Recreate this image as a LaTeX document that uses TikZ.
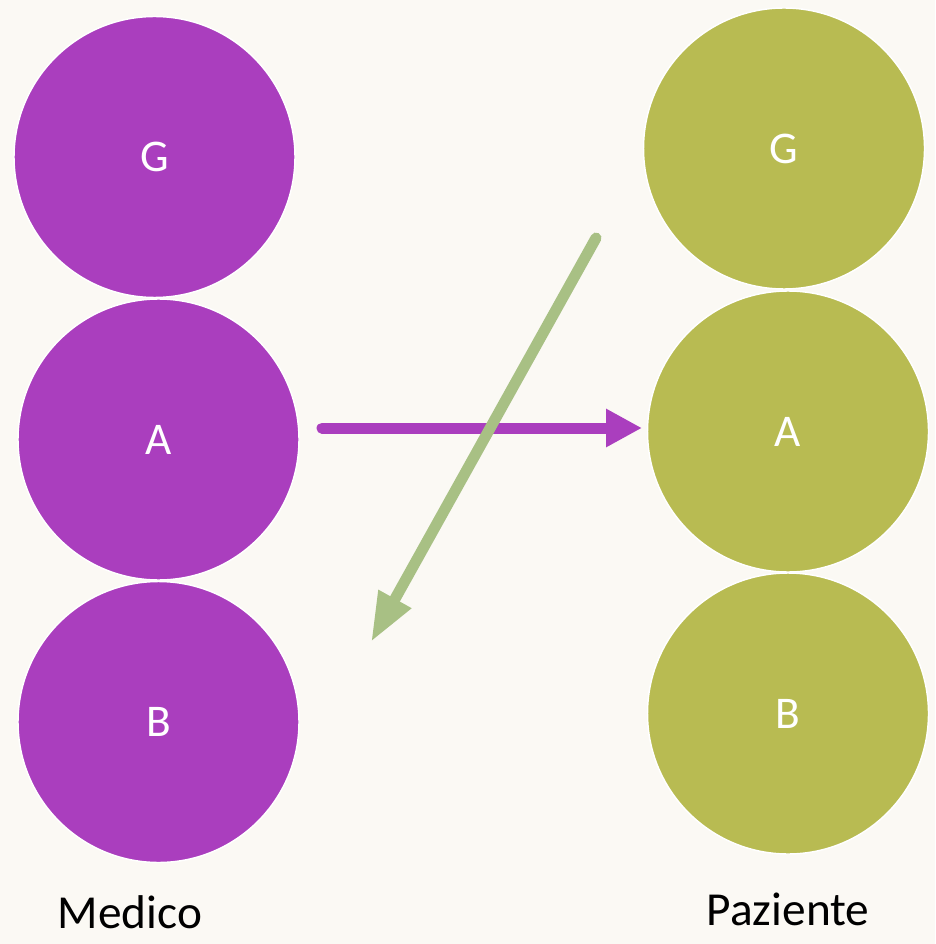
\documentclass[tikz,border=0pt]{standalone}
\usepackage{fontspec}
\setmainfont{Carlito}
\usetikzlibrary{arrows.meta}
\definecolor{bg}{RGB}{251,249,244}
\definecolor{purp}{RGB}{170,62,190}
\definecolor{olive}{RGB}{184,187,82}
\definecolor{sage}{RGB}{168,192,132}
\tikzset{
  ball/.style={circle, minimum size=210.75pt, inner sep=0pt, draw=white, line width=1.1pt, text=white, font=\fontsize{34}{40}\selectfont},
  pball/.style={ball, fill=purp},
  gball/.style={ball, fill=olive},
  caption/.style={anchor=base, font=\fontsize{35.5}{42}\selectfont, text=black, inner sep=0pt},
  parrow/.style={draw=purp, line width=8.25pt, line cap=round, -{Triangle[length=27pt, width=27pt]}},
  garrow/.style={draw=sage, line width=8.25pt, line cap=round, -{Triangle[length=37pt, width=26pt]}}
}
\begin{document}
\begin{tikzpicture}[x=0.75pt, y=-0.75pt]
\fill[bg] (0,0) rectangle (935,944);
\useasboundingbox (0,0) rectangle (935,944);
\node[pball] (LG) at (154.5,157) {G};
\node[pball] (LA) at (158.5,439.5) {A};
\node[pball] (LB) at (158.5,722) {B};
\node[gball] (RG) at (784,148.5) {G};
\node[gball] (RA) at (788,431.5) {A};
\node[gball] (RB) at (788,713.5) {B};
\node[caption] (med) at (130,928) {Medico};
\node[caption] (paz) at (788,925) {Paziente};
\coordinate (ps) at (322,428);
\coordinate (pe) at (642,428);
\coordinate (gs) at (596,238);
\coordinate (ge) at (371,642);
\draw[parrow] (ps) -- (pe);
\draw[garrow] (gs) -- (ge);
\end{tikzpicture}
\end{document}
